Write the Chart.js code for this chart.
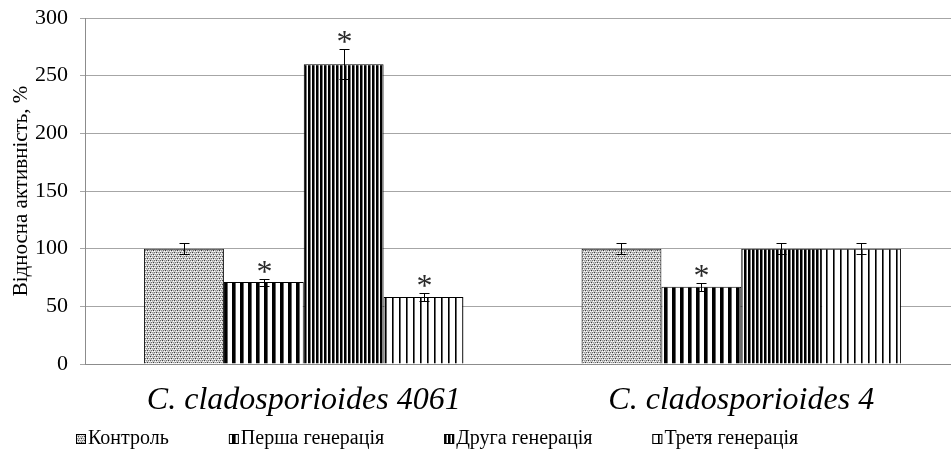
<!DOCTYPE html>
<html>
<head>
<meta charset="utf-8">
<script src="https://cdn.jsdelivr.net/npm/chart.js@4"></script>
<style>
  html, body { margin: 0; padding: 0; background: #fff; overflow: hidden; width: 951px; height: 452px; }
  #wrap { position: relative; width: 960px; height: 452px; }
</style>
</head>
<body>
<div id="wrap"><canvas id="c" width="960" height="452"></canvas></div>
<script>
// Relative enzyme activity, % of control, for two strains and three generations
const categories = ['C. cladosporioides 4061', 'C. cladosporioides 4'];
const seriesNames = ['Контроль', 'Перша генерація', 'Друга генерація', 'Третя генерація'];
const control = [100, 100];
const gen1 = [71, 67];
const gen2 = [260, 100];
const gen3 = [58, 100];
const controlErr = [5, 5];
const gen1Err = [3, 3.5];
const gen2Err = [13, 5];
const gen3Err = [3.5, 5];
// significant difference from control (marked with *)
const controlSig = [false, false];
const gen1Sig = [true, true];
const gen2Sig = [true, false];
const gen3Sig = [true, false];
const yTicks = [0, 50, 100, 150, 200, 250, 300];
const yTitle = 'Відносна активність, %';

const SERIF = '"Liberation Serif", "Times New Roman", serif';

function makePattern(w, h, paint) {
  const c = document.createElement('canvas');
  c.width = w; c.height = h;
  const g = c.getContext('2d');
  g.fillStyle = '#fff';
  g.fillRect(0, 0, w, h);
  paint(g);
  return document.getElementById('c').getContext('2d').createPattern(c, 'repeat');
}

// grey dot texture
const dotsPattern = makePattern(6, 4, g => {
  g.fillStyle = '#c8c8c8'; g.fillRect(0, 0, 6, 4);
  g.fillStyle = '#fff'; g.fillRect(1, 1, 1, 1); g.fillRect(4, 3, 1, 1); g.fillRect(2, 3, 1, 1); g.fillRect(5, 1, 1, 1);
  g.fillStyle = '#3a3a3a'; g.fillRect(0, 0, 1, 1); g.fillRect(3, 2, 1, 1);
  g.fillStyle = '#707070'; g.fillRect(1, 2, 1, 1); g.fillRect(4, 0, 1, 1);
  g.fillStyle = '#959595'; g.fillRect(2, 0, 1, 1); g.fillRect(5, 2, 1, 1);
});
// wide black stripes
const wideStripes = makePattern(8, 1, g => {
  g.fillStyle = '#000'; g.fillRect(0, 0, 3, 1);
  g.fillStyle = '#666'; g.fillRect(3, 0, 1, 1);
});
// dense narrow stripes
const denseStripes = makePattern(4, 1, g => {
  g.fillStyle = '#000'; g.fillRect(0, 0, 2, 1);
  g.fillStyle = '#777'; g.fillRect(2, 0, 1, 1);
});
// thin sparse lines
const thinLines = makePattern(7, 1, g => {
  g.fillStyle = '#000'; g.fillRect(0, 0, 1, 1);
  g.fillStyle = '#666'; g.fillRect(1, 0, 1, 1);
});

const fills = [dotsPattern, wideStripes, denseStripes, thinLines];
const values = [control, gen1, gen2, gen3];
const errors = [controlErr, gen1Err, gen2Err, gen3Err];
const marks = [controlSig, gen1Sig, gen2Sig, gen3Sig];

const datasets = seriesNames.map((name, i) => ({
  label: name,
  data: values[i],
  errors: errors[i],
  marks: marks[i],
  backgroundColor: fills[i],
  borderColor: '#000',
  borderWidth: 1,
  categoryPercentage: 0.73,
  barPercentage: 1
}));

const errorBars = {
  id: 'errorBars',
  afterDatasetsDraw(chart) {
    const ctx = chart.ctx;
    const y = chart.scales.y;
    ctx.save();
    chart.data.datasets.forEach((ds, di) => {
      const meta = chart.getDatasetMeta(di);
      meta.data.forEach((bar, j) => {
        const v = ds.data[j], e = ds.errors[j];
        const top = Math.round(y.getPixelForValue(v + e)) + 0.5;
        const bot = Math.round(y.getPixelForValue(v - e)) + 0.5;
        const x = Math.round(bar.x) + 0.5;
        ctx.strokeStyle = '#000';
        ctx.lineWidth = 1;
        ctx.beginPath();
        ctx.moveTo(x, top); ctx.lineTo(x, bot);
        ctx.moveTo(x - 5, top); ctx.lineTo(x + 5, top);
        ctx.moveTo(x - 5, bot); ctx.lineTo(x + 5, bot);
        ctx.stroke();
        if (ds.marks[j]) {
          ctx.fillStyle = '#2a2a2a';
          ctx.font = '32px ' + SERIF;
          ctx.textAlign = 'center';
          ctx.textBaseline = 'alphabetic';
          ctx.fillText('*', x, top + 2);
        }
      });
    });
    ctx.restore();
  }
};

const bottomLegend = {
  id: 'bottomLegend',
  afterDraw(chart) {
    const ctx = chart.ctx;
    ctx.save();
    ctx.font = '20px ' + SERIF;
    ctx.textBaseline = 'middle';
    ctx.textAlign = 'left';
    const yMid = 439;
    const box = 10, gapText = 2, gapItem = 60;
    let x = 76;
    chart.data.datasets.forEach(ds => {
      ctx.fillStyle = ds.backgroundColor;
      ctx.fillRect(x, yMid - box / 2, box, box);
      ctx.strokeStyle = '#000';
      ctx.lineWidth = 1;
      ctx.strokeRect(x + 0.5, yMid - box / 2 + 0.5, box - 1, box - 1);
      ctx.fillStyle = '#000';
      ctx.fillText(ds.label, x + box + gapText, yMid);
      x += box + gapText + ctx.measureText(ds.label).width + gapItem;
    });
    ctx.restore();
  }
};

new Chart(document.getElementById('c'), {
  type: 'bar',
  data: { labels: categories, datasets },
  options: {
    responsive: false,
    devicePixelRatio: 1,
    animation: false,
    layout: { padding: { top: 18, right: 0, bottom: 34, left: 0 } },
    plugins: { legend: { display: false }, tooltip: { enabled: false } },
    scales: {
      x: {
        grid: { display: false, drawTicks: false },
        border: { color: '#8c8c8c', width: 1 },
        ticks: { color: '#000', font: { family: SERIF, size: 32, style: 'italic' }, padding: 17, maxRotation: 0 },
        afterFit(s) { s.height = 54; }
      },
      y: {
        min: 0, max: 300,
        afterBuildTicks(s) { s.ticks = yTicks.map(v => ({ value: v })); },
        grid: { color: '#a6a6a6', lineWidth: 1, tickLength: 5, drawTicks: true },
        border: { color: '#8c8c8c', width: 1 },
        ticks: { color: '#000', font: { family: SERIF, size: 22 }, padding: 12 },
        title: { display: true, text: yTitle, color: '#000', font: { family: SERIF, size: 21 }, padding: { top: 9, bottom: 0 } },
        afterFit(s) { s.width = 85; s.paddingTop = 12; s.paddingBottom = 12; }
      }
    }
  },
  plugins: [errorBars, bottomLegend]
});
</script>
</body>
</html>
